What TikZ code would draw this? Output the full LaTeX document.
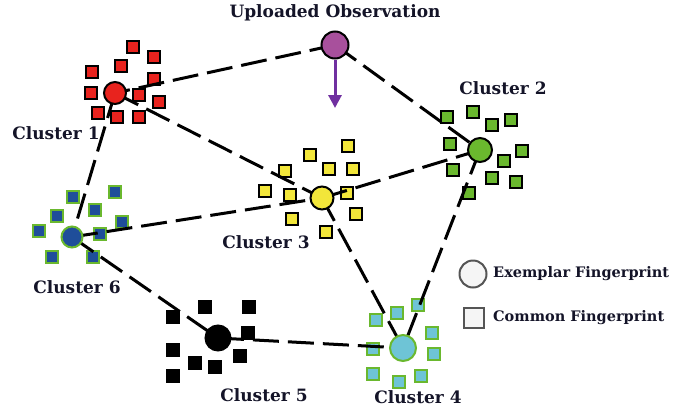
\documentclass[tikz,border=0pt]{standalone}
\usepackage{fontspec}
\setmainfont{DejaVu Serif}
\usetikzlibrary{arrows.meta}
\pgfdeclarelayer{sqlayer}
\pgfdeclarelayer{lnlayer}
\pgfsetlayers{sqlayer,lnlayer,main}
\definecolor{redc}{HTML}{E8231E}
\definecolor{greenc}{HTML}{6AB82E}
\definecolor{yellowc}{HTML}{F2E63A}
\definecolor{bluec}{HTML}{1F4E9A}
\definecolor{cyanc}{HTML}{6EC4D6}
\definecolor{purplec}{HTML}{A8509C}
\definecolor{arrowc}{HTML}{7030A0}
\definecolor{legc}{HTML}{555555}
\definecolor{textc}{HTML}{141428}
\begin{document}
\begin{tikzpicture}[x=1pt,y=-1pt,
  fp/.style={circle,draw=black,line width=2pt,inner sep=0pt},
  sq/.style={rectangle,draw=black,line width=2pt,minimum size=12.5pt,inner sep=0pt},
  lbl/.style={font=\bfseries\fontsize{17}{19}\selectfont,text=textc,inner sep=0pt},
  leg/.style={font=\bfseries\fontsize{14.5}{16}\selectfont,text=textc,inner sep=0pt,anchor=west},
  link/.style={line width=3pt,dash pattern=on 26pt off 9pt,line cap=butt}]
\useasboundingbox (0,0) rectangle (685,413);

% common fingerprints
\begin{pgfonlayer}{sqlayer}
\foreach \x/\y [count=\i] in {133/47,154/57,92/72,121/66,154/79,91/93,139/95,159/102,98/113,117/117,139/117}
  \node[sq,fill=redc] (ra\i) at (\x,\y) {};
\foreach \x/\y [count=\i] in {447/117,473/112,492/125,511/120,450/144,522/151,504/161,453/170,492/178,516/182,469/193}
  \node[sq,fill=greenc,minimum size=11.5pt] (gb\i) at (\x,\y) {};
\foreach \x/\y [count=\i] in {348/146,310/155,329/169,353/169,285/171,265/191,290/195,347/193,356/214,292/219,326/232}
  \node[sq,fill=yellowc,minimum size=11.5pt] (yc\i) at (\x,\y) {};
\foreach \x/\y [count=\i] in {73/197,115/192,57/216,95/210,122/222,39/231,100/234,52/257,93/257}
  \node[sq,fill=bluec,draw=greenc] (bf\i) at (\x,\y) {};
\foreach \x/\y [count=\i] in {173/317,205/307,249/307,248/333,173/350,195/363,215/367,240/356,173/376}
  \node[sq,fill=black] (ke\i) at (\x,\y) {};
\foreach \x/\y [count=\i] in {376/320,397/313,418/305,432/333,373/349,434/354,373/374,399/382,421/376}
  \node[sq,fill=cyanc,draw=greenc] (cd\i) at (\x,\y) {};
\end{pgfonlayer}

% exemplar fingerprints
\node[fp,fill=purplec,minimum size=27pt] (uo) at (335,45) {};
\node[fp,fill=redc,minimum size=22pt] (c1) at (115,93) {};
\node[fp,fill=greenc,minimum size=24pt] (c2) at (480,150) {};
\node[fp,fill=yellowc,minimum size=23pt] (c3) at (322,198) {};
\node[fp,fill=cyanc,draw=greenc,minimum size=26pt] (c4) at (403,348) {};
\node[fp,fill=black,minimum size=25pt] (c5) at (218,338) {};
\node[fp,fill=bluec,draw=greenc,minimum size=21pt] (c6) at (72,237) {};

% links
\begin{pgfonlayer}{lnlayer}
\draw[link] (uo.center) -- (c1.center);
\draw[link] (uo.center) -- (c2.center);
\draw[link] (c1.center) -- (c3.center);
\draw[link] (c1.center) -- (c6.center);
\draw[link] (c6.center) -- (c3.center);
\draw[link] (c3.center) -- (c2.center);
\draw[link] (c3.center) -- (c4.center);
\draw[link] (c2.center) -- (c4.center);
\draw[link] (c6.center) -- (c5.center);
\draw[link] (c5.center) -- (c4.center);
\end{pgfonlayer}

% upload arrow
\coordinate (arrend) at (335,108);
\draw[arrowc,line width=3pt,-{Triangle[width=13pt,length=13pt]}] (uo.south) -- (arrend);

% labels
\node[lbl] (tuo) at (335,13) {Uploaded Observation};
\node[lbl] (t1) at (56,133) {Cluster 1};
\node[lbl] (t2) at (503,88) {Cluster 2};
\node[lbl] (t3) at (266,242) {Cluster 3};
\node[lbl] (t4) at (418,397) {Cluster 4};
\node[lbl] (t5) at (264,395) {Cluster 5};
\node[lbl] (t6) at (77,287) {Cluster 6};

% legend
\node[fp,fill=gray!8,draw=legc,minimum size=27pt] (lc) at (473,274) {};
\node[sq,fill=gray!8,draw=legc,minimum size=20pt,line width=2.5pt] (ls) at (474,318) {};
\node[leg] (lct) at (493,274) {Exemplar Fingerprint};
\node[leg] (lst) at (493,318) {Common Fingerprint};
\end{tikzpicture}
\end{document}
